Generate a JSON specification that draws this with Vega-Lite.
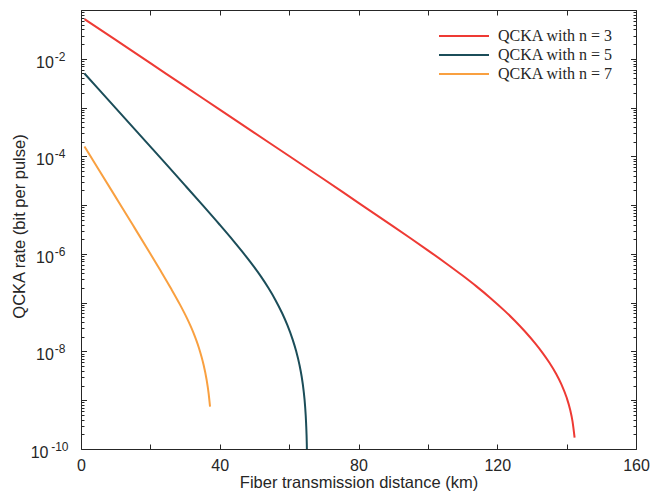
{
  "$schema": "https://vega.github.io/schema/vega-lite/v6.json",
  "width": 555,
  "height": 439,
  "autosize": {"type": "none"},
  "padding": {"left": 81, "top": 10, "right": 23, "bottom": 46},
  "background": "white",
  "config": {
    "view": {"stroke": null},
    "axis": {
      "domainColor": "#262626",
      "tickColor": "#262626",
      "labelColor": "#262626",
      "titleColor": "#262626",
      "labelFont": "Liberation Sans",
      "titleFont": "Liberation Sans",
      "labelFontSize": 16,
      "titleFontSize": 16.5,
      "titleFontWeight": "normal",
      "grid": false,
      "domainWidth": 1,
      "tickWidth": 1
    }
  },
  "data": {
    "values": [
      {"d": 1, "r": 6.52e-2, "s": "QCKA with n = 3"},
      {"d": 10, "r": 2.432e-2, "s": "QCKA with n = 3"},
      {"d": 20, "r": 8.13e-3, "s": "QCKA with n = 3"},
      {"d": 30, "r": 2.716e-3, "s": "QCKA with n = 3"},
      {"d": 40, "r": 9.08e-4, "s": "QCKA with n = 3"},
      {"d": 50, "r": 3.034e-4, "s": "QCKA with n = 3"},
      {"d": 60, "r": 1.014e-4, "s": "QCKA with n = 3"},
      {"d": 70, "r": 3.39e-5, "s": "QCKA with n = 3"},
      {"d": 80, "r": 1.114e-5, "s": "QCKA with n = 3"},
      {"d": 85, "r": 6.405e-6, "s": "QCKA with n = 3"},
      {"d": 90, "r": 3.67e-6, "s": "QCKA with n = 3"},
      {"d": 95, "r": 2.092e-6, "s": "QCKA with n = 3"},
      {"d": 100, "r": 1.183e-6, "s": "QCKA with n = 3"},
      {"d": 105, "r": 6.60e-7, "s": "QCKA with n = 3"},
      {"d": 110, "r": 3.598e-7, "s": "QCKA with n = 3"},
      {"d": 114, "r": 2.159e-7, "s": "QCKA with n = 3"},
      {"d": 118, "r": 1.252e-7, "s": "QCKA with n = 3"},
      {"d": 122, "r": 6.95e-8, "s": "QCKA with n = 3"},
      {"d": 125, "r": 4.305e-8, "s": "QCKA with n = 3"},
      {"d": 128, "r": 2.561e-8, "s": "QCKA with n = 3"},
      {"d": 131, "r": 1.446e-8, "s": "QCKA with n = 3"},
      {"d": 133, "r": 9.48e-9, "s": "QCKA with n = 3"},
      {"d": 135, "r": 5.93e-9, "s": "QCKA with n = 3"},
      {"d": 137, "r": 3.448e-9, "s": "QCKA with n = 3"},
      {"d": 138.5, "r": 2.115e-9, "s": "QCKA with n = 3"},
      {"d": 140, "r": 1.136e-9, "s": "QCKA with n = 3"},
      {"d": 141, "r": 6.45e-10, "s": "QCKA with n = 3"},
      {"d": 141.7, "r": 3.674e-10, "s": "QCKA with n = 3"},
      {"d": 142.3, "r": 1.708e-10, "s": "QCKA with n = 3"},
      {"d": 1, "r": 4.99e-3, "s": "QCKA with n = 5"},
      {"d": 5, "r": 2.415e-3, "s": "QCKA with n = 5"},
      {"d": 10, "r": 9.74e-4, "s": "QCKA with n = 5"},
      {"d": 15, "r": 3.925e-4, "s": "QCKA with n = 5"},
      {"d": 20, "r": 1.580e-4, "s": "QCKA with n = 5"},
      {"d": 25, "r": 6.35e-5, "s": "QCKA with n = 5"},
      {"d": 30, "r": 2.540e-5, "s": "QCKA with n = 5"},
      {"d": 35, "r": 1.0095e-5, "s": "QCKA with n = 5"},
      {"d": 40, "r": 3.954e-6, "s": "QCKA with n = 5"},
      {"d": 44, "r": 1.830e-6, "s": "QCKA with n = 5"},
      {"d": 47, "r": 1.002e-6, "s": "QCKA with n = 5"},
      {"d": 50, "r": 5.28e-7, "s": "QCKA with n = 5"},
      {"d": 52, "r": 3.333e-7, "s": "QCKA with n = 5"},
      {"d": 54, "r": 2.018e-7, "s": "QCKA with n = 5"},
      {"d": 56, "r": 1.153e-7, "s": "QCKA with n = 5"},
      {"d": 58, "r": 6.06e-8, "s": "QCKA with n = 5"},
      {"d": 59.5, "r": 3.456e-8, "s": "QCKA with n = 5"},
      {"d": 61, "r": 1.771e-8, "s": "QCKA with n = 5"},
      {"d": 62, "r": 1.031e-8, "s": "QCKA with n = 5"},
      {"d": 63, "r": 5.243e-9, "s": "QCKA with n = 5"},
      {"d": 63.6, "r": 3.099e-9, "s": "QCKA with n = 5"},
      {"d": 64.2, "r": 1.525e-9, "s": "QCKA with n = 5"},
      {"d": 64.6, "r": 7.60e-10, "s": "QCKA with n = 5"},
      {"d": 64.9, "r": 3.317e-10, "s": "QCKA with n = 5"},
      {"d": 65.1, "r": 1.227e-10, "s": "QCKA with n = 5"},
      {"d": 65.2, "r": 4.62e-11, "s": "QCKA with n = 5"},
      {"d": 1, "r": 1.592e-4, "s": "QCKA with n = 7"},
      {"d": 5, "r": 5.508e-5, "s": "QCKA with n = 7"},
      {"d": 10, "r": 1.458e-5, "s": "QCKA with n = 7"},
      {"d": 15, "r": 3.847e-6, "s": "QCKA with n = 7"},
      {"d": 20, "r": 1.005e-6, "s": "QCKA with n = 7"},
      {"d": 23, "r": 4.44e-7, "s": "QCKA with n = 7"},
      {"d": 26, "r": 1.921e-7, "s": "QCKA with n = 7"},
      {"d": 28.5, "r": 9.23e-8, "s": "QCKA with n = 7"},
      {"d": 30.5, "r": 4.878e-8, "s": "QCKA with n = 7"},
      {"d": 32.4, "r": 2.431e-8, "s": "QCKA with n = 7"},
      {"d": 34, "r": 1.179e-8, "s": "QCKA with n = 7"},
      {"d": 35.3, "r": 5.464e-9, "s": "QCKA with n = 7"},
      {"d": 36.2, "r": 2.655e-9, "s": "QCKA with n = 7"},
      {"d": 36.8, "r": 1.371e-9, "s": "QCKA with n = 7"},
      {"d": 37.2, "r": 7.41e-10, "s": "QCKA with n = 7"}
    ]
  },
  "layer": [
    {
      "mark": {"type": "line", "strokeWidth": 2, "clip": true, "interpolate": "monotone"},
      "encoding": {
        "x": {
          "field": "d", "type": "quantitative",
          "scale": {"domain": [0, 160], "nice": false, "zero": false},
          "axis": {
            "orient": "bottom",
            "values": [0, 20, 40, 60, 80, 100, 120, 140, 160],
            "labelExpr": "datum.value % 40 == 0 ? datum.label : ''",
            "labelFlush": false,
            "tickSize": -5,
            "labelPadding": 13,
            "title": "Fiber transmission distance (km)",
            "titleX": 277.5,
            "titleY": 33,
            "titleBaseline": "middle",
            "titleAnchor": "middle"
          }
        },
        "y": {
          "field": "r", "type": "quantitative",
          "scale": {"type": "log", "domain": [1e-10, 0.1], "nice": false},
          "axis": {
            "orient": "left",
            "values": [1e-10,2e-10,3e-10,4e-10,5e-10,6e-10,7e-10,8e-10,9e-10,1e-9,2e-9,3e-9,4e-9,5e-9,6e-9,7e-9,8e-9,9e-9,1e-8,2e-8,3e-8,4e-8,5e-8,6e-8,7e-8,8e-8,9e-8,1e-7,2e-7,3e-7,4e-7,5e-7,6e-7,7e-7,8e-7,9e-7,1e-6,2e-6,3e-6,4e-6,5e-6,6e-6,7e-6,8e-6,9e-6,1e-5,2e-5,3e-5,4e-5,5e-5,6e-5,7e-5,8e-5,9e-5,1e-4,2e-4,3e-4,4e-4,5e-4,6e-4,7e-4,8e-4,9e-4,1e-3,2e-3,3e-3,4e-3,5e-3,6e-3,7e-3,8e-3,9e-3,1e-2,2e-2,3e-2,4e-2,5e-2,6e-2,7e-2,8e-2,9e-2,1e-1],
            "labels": false,
            "tickSize": {"condition": {"test": "abs(log(datum.value)/LN10 - round(log(datum.value)/LN10)) < 0.01", "value": -5.5}, "value": -3},
            "title": "QCKA rate (bit per pulse)",
            "titleX": -61.5,
            "titleY": 216,
            "titleAngle": -90,
            "titleBaseline": "middle",
            "titleAlign": "center"
          }
        },
        "color": {
          "field": "s", "type": "nominal",
          "scale": {"domain": ["QCKA with n = 3", "QCKA with n = 5", "QCKA with n = 7"], "range": ["#EE3A34", "#1B4D59", "#F9A040"]},
          "legend": {
            "title": null,
            "orient": "none",
            "legendX": 375,
            "legendY": 18,
            "padding": 0,
            "symbolType": "M-5,0H5",
            "symbolSize": 100,
            "symbolStrokeWidth": 2,
            "labelFont": "Liberation Serif",
            "labelFontSize": 16,
            "labelColor": "#262626",
            "labelOffset": 26,
            "rowPadding": 3
          }
        }
      }
    },
    {
      "mark": {"type": "line", "opacity": 0},
      "encoding": {
        "x": {
          "field": "d", "type": "quantitative",
          "scale": {"domain": [0, 160], "nice": false, "zero": false},
          "axis": {
            "orient": "top",
            "values": [0, 20, 40, 60, 80, 100, 120, 140, 160],
            "labels": false,
            "tickSize": -5,
            "title": null
          }
        },
        "y": {
          "field": "r", "type": "quantitative",
          "scale": {"type": "log", "domain": [1e-10, 0.1], "nice": false},
          "axis": {
            "orient": "right",
            "values": [1e-10,2e-10,3e-10,4e-10,5e-10,6e-10,7e-10,8e-10,9e-10,1e-9,2e-9,3e-9,4e-9,5e-9,6e-9,7e-9,8e-9,9e-9,1e-8,2e-8,3e-8,4e-8,5e-8,6e-8,7e-8,8e-8,9e-8,1e-7,2e-7,3e-7,4e-7,5e-7,6e-7,7e-7,8e-7,9e-7,1e-6,2e-6,3e-6,4e-6,5e-6,6e-6,7e-6,8e-6,9e-6,1e-5,2e-5,3e-5,4e-5,5e-5,6e-5,7e-5,8e-5,9e-5,1e-4,2e-4,3e-4,4e-4,5e-4,6e-4,7e-4,8e-4,9e-4,1e-3,2e-3,3e-3,4e-3,5e-3,6e-3,7e-3,8e-3,9e-3,1e-2,2e-2,3e-2,4e-2,5e-2,6e-2,7e-2,8e-2,9e-2,1e-1],
            "labels": false,
            "tickSize": {"condition": {"test": "abs(log(datum.value)/LN10 - round(log(datum.value)/LN10)) < 0.01", "value": -5.5}, "value": -3},
            "title": null
          }
        },
        "detail": {"field": "s", "type": "nominal"}
      }
    },
    {
      "mark": {"type": "line", "opacity": 0},
      "encoding": {
        "x": {"field": "d", "type": "quantitative", "scale": {"domain": [0, 160], "nice": false, "zero": false}, "axis": null},
        "y": {
          "field": "r", "type": "quantitative",
          "scale": {"type": "log", "domain": [1e-10, 0.1], "nice": false},
          "axis": {
            "orient": "left",
            "values": [1e-10, 1e-8, 1e-6, 1e-4, 1e-2],
            "ticks": false,
            "domain": false,
            "labelExpr": "'10'",
            "labelAlign": "right",
            "labelBaseline": "middle",
            "labelPadding": {"condition": {"test": "datum.value < 5e-10", "value": 33}, "value": 27.7},
            "labelOffset": 3.5,
            "labelFontSize": 16,
            "labelFlush": false,
            "labelOverlap": false,
            "labelBound": false,
            "title": null
          }
        },
        "detail": {"field": "s", "type": "nominal"}
      }
    },
    {
      "mark": {"type": "line", "opacity": 0},
      "encoding": {
        "x": {"field": "d", "type": "quantitative", "scale": {"domain": [0, 160], "nice": false, "zero": false}, "axis": null},
        "y": {
          "field": "r", "type": "quantitative",
          "scale": {"type": "log", "domain": [1e-10, 0.1], "nice": false},
          "axis": {
            "orient": "left",
            "values": [1e-10, 1e-8, 1e-6, 1e-4, 1e-2],
            "ticks": false,
            "domain": false,
            "labelExpr": "datum.value < 5e-10 ? '-10' : datum.value < 5e-8 ? '-8' : datum.value < 5e-6 ? '-6' : datum.value < 5e-4 ? '-4' : '-2'",
            "labelAlign": "right",
            "labelBaseline": "middle",
            "labelPadding": {"condition": {"test": "datum.value < 5e-10", "value": 13}, "value": 16},
            "labelOffset": -2.5,
            "labelFontSize": 12,
            "labelFlush": false,
            "labelOverlap": false,
            "labelBound": false,
            "title": null
          }
        },
        "detail": {"field": "s", "type": "nominal"}
      }
    }
  ],
  "resolve": {"axis": {"x": "independent", "y": "independent"}}
}
